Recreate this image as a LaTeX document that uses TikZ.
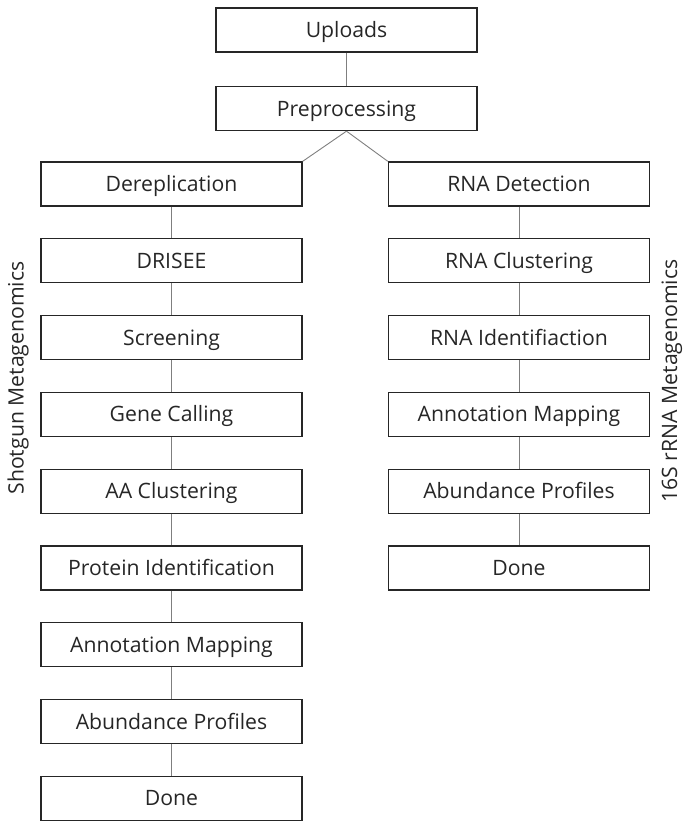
\documentclass[tikz,border=0pt]{standalone}
\usepackage{fontspec}
\setmainfont{Open Sans}
\definecolor{txt}{HTML}{262626}
\definecolor{ln}{HTML}{7F7F7F}
\begin{document}
\begin{tikzpicture}[x=1pt,y=-1pt,
  box/.style={draw=black!85,line width=1.3pt,minimum width=261pt,minimum height=44pt,inner sep=0pt,text height=15pt,text depth=0pt,text=txt,font=\fontsize{21.2}{25}\selectfont},
  link/.style={draw=ln,line width=0.9pt},
  side/.style={rotate=90,text=txt,font=\fontsize{21.2}{25}\selectfont}]
\useasboundingbox (0,0) rectangle (685,822);
\node[box] (up) at (346.5,30) {Uploads};
\node[box] (pre) at (346.5,108.5) {Preprocessing};
\foreach \t [count=\i from 0] in {Dereplication,DRISEE,Screening,Gene Calling,AA Clustering,Protein Identification,Annotation Mapping,Abundance Profiles,Done}
  \node[box] (l\i) at (171.5,184+76.8*\i) {\t};
\foreach \t [count=\i from 0] in {RNA Detection,RNA Clustering,RNA Identifiaction,Annotation Mapping,Abundance Profiles,Done}
  \node[box] (r\i) at (519,184+76.8*\i) {\t};
\draw[link] (up.south) -- (pre.north);
\draw[link] (pre.south) -- (l0.north east);
\draw[link] (pre.south) -- (r0.north west);
\foreach \i [evaluate=\i as \j using int(\i+1)] in {0,...,7}
  \draw[link] (l\i.south) -- (l\j.north);
\foreach \i [evaluate=\i as \j using int(\i+1)] in {0,...,4}
  \draw[link] (r\i.south) -- (r\j.north);
\node[side] (sl) at (18,378) {Shotgun Metagenomics};
\node[side] (sr) at (672,381) {16S rRNA Metagenomics};
\end{tikzpicture}
\end{document}
